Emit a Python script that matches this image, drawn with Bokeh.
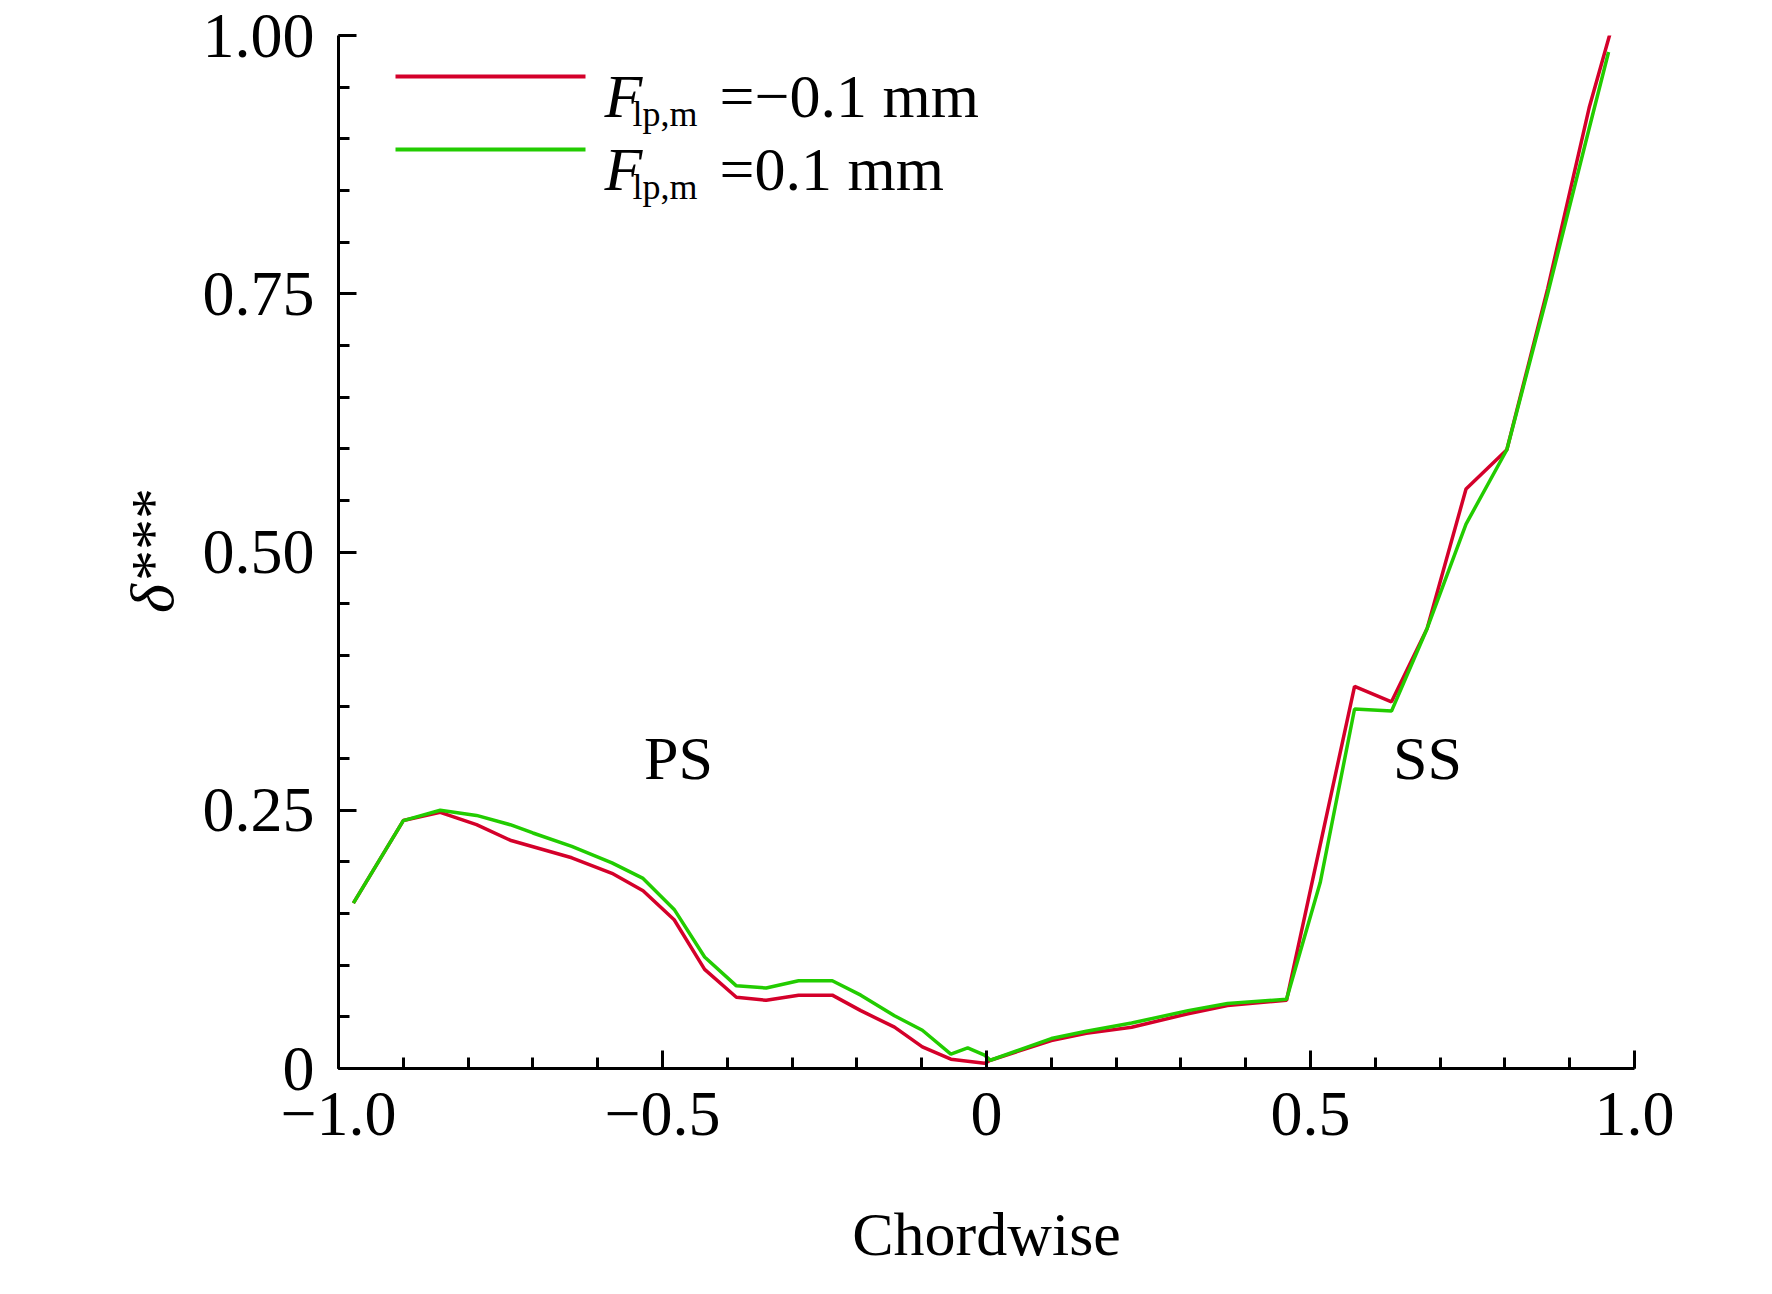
import numpy as np
from bokeh.plotting import figure
from bokeh.models import FixedTicker, Label, BoxAnnotation, Range1d
from bokeh.embed import file_html
from bokeh.resources import INLINE

x_red = [-0.977,-0.90,-0.843,-0.787,-0.735,-0.64,-0.578,-0.53,-0.482,-0.435,-0.386,-0.34,-0.29,-0.238,-0.194,-0.142,-0.099,-0.055,-0.003,0.006,0.10,0.154,0.224,0.311,0.372,0.463,0.568,0.625,0.68,0.74,0.803,0.866,0.93,0.965]
y_red = [0.16,0.24,0.248,0.236,0.221,0.204,0.189,0.172,0.144,0.096,0.069,0.066,0.071,0.071,0.056,0.040,0.021,0.009,0.005,0.008,0.027,0.034,0.040,0.053,0.061,0.066,0.370,0.355,0.426,0.561,0.599,0.755,0.93,1.008]
x_green = [-0.977,-0.90,-0.843,-0.787,-0.735,-0.70,-0.64,-0.578,-0.53,-0.482,-0.435,-0.386,-0.34,-0.29,-0.238,-0.194,-0.142,-0.099,-0.055,-0.029,-0.003,0.006,0.10,0.154,0.224,0.311,0.372,0.463,0.515,0.568,0.625,0.68,0.74,0.803,0.866,0.93,0.96]
y_green = [0.16,0.24,0.25,0.245,0.236,0.228,0.215,0.199,0.184,0.154,0.108,0.080,0.078,0.085,0.085,0.071,0.051,0.037,0.014,0.020,0.013,0.008,0.029,0.036,0.044,0.056,0.063,0.067,0.18,0.348,0.346,0.426,0.527,0.599,0.75,0.91,0.984]
x_ticks = [-1.0,-0.5,0.0,0.5,1.0]
x_tick_labels = ["\u22121.0","\u22120.5","0","0.5","1.0"]
y_ticks = [0.0,0.25,0.5,0.75,1.0]
y_tick_labels = ["0","0.25","0.50","0.75","1.00"]

RED = "#d4002a"; GREEN = "#22cc00"
FONT = "Liberation Serif"
W, H = 1740, 1270
BL, BT, BB = 338, 35, 173

p = figure(width=W, height=H, output_backend="svg", toolbar_location=None,
           x_range=Range1d(-1, 1), y_range=Range1d(0, 1),
           min_border_left=BL, min_border_right=106, min_border_top=BT, min_border_bottom=BB)
p.outline_line_color = None
p.grid.visible = False
p.background_fill_color = "white"

p.line(x_red, y_red, line_color=RED, line_width=3.5)
p.line(x_green, y_green, line_color=GREEN, line_width=3.5)

p.xaxis.ticker = FixedTicker(ticks=x_ticks, minor_ticks=list(np.round(np.arange(-1, 1.001, 0.1), 2)))
p.yaxis.ticker = FixedTicker(ticks=y_ticks, minor_ticks=list(np.round(np.arange(0, 1.001, 0.05), 2)))
p.xaxis.major_label_overrides = dict(zip(x_ticks, x_tick_labels))
p.yaxis.major_label_overrides = dict(zip(y_ticks, y_tick_labels))
for ax in (p.xaxis, p.yaxis):
    ax.axis_line_width = 3
    ax.major_tick_line_width = 3
    ax.minor_tick_line_width = 3
    ax.major_tick_in = 18
    ax.major_tick_out = 0
    ax.minor_tick_in = 11
    ax.minor_tick_out = 0
    ax.major_label_text_font = FONT
    ax.major_label_text_font_size = "64px"
    ax.major_label_text_color = "black"
    ax.major_label_standoff = 24
    ax.axis_label_text_font = FONT
    ax.axis_label_text_color = "black"

p.xaxis.axis_label = "Chordwise"
p.xaxis.axis_label_text_font_size = "62px"
p.xaxis.axis_label_text_font_style = "normal"
p.xaxis.axis_label_standoff = 62
p.yaxis.axis_label = "\u03b4***"
p.yaxis.axis_label_text_font_size = "62px"
p.yaxis.axis_label_text_font_style = "italic"
p.yaxis.axis_label_standoff = 14

def lab(x, y, t, size="62px", style="normal", align="left", base="alphabetic"):
    p.add_layout(Label(x=x, y=y, x_units="screen", y_units="screen", text=t,
                       text_font=FONT, text_font_size=size, text_font_style=style,
                       text_align=align, text_baseline=base, text_color="black"))

# coordinates relative to the frame (page px - frame origin)
FX = BL + 8
FB = 8 + H - BB
def sx(page_x):
    return page_x - FX
def sy(page_y):
    return FB - page_y

lab(sx(686), sy(794), "PS", align="center", base="middle")
lab(sx(1435), sy(794), "SS", align="center", base="middle")

for cy, col, t in [(113, RED, "=\u22120.1 mm"), (186, GREEN, "=0.1 mm")]:
    p.add_layout(BoxAnnotation(left=sx(403), right=sx(593), top=sy(cy) + 2, bottom=sy(cy) - 2,
                               left_units="screen", right_units="screen", top_units="screen", bottom_units="screen",
                               fill_color=col, fill_alpha=1, line_color=None))
    lab(sx(612), sy(cy + 19), "F", style="italic")
    lab(sx(640), sy(cy + 37), "lp,m", size="36px")
    lab(sx(727), sy(cy + 19), t)

open("out.html", "w").write(file_html(p, INLINE))
